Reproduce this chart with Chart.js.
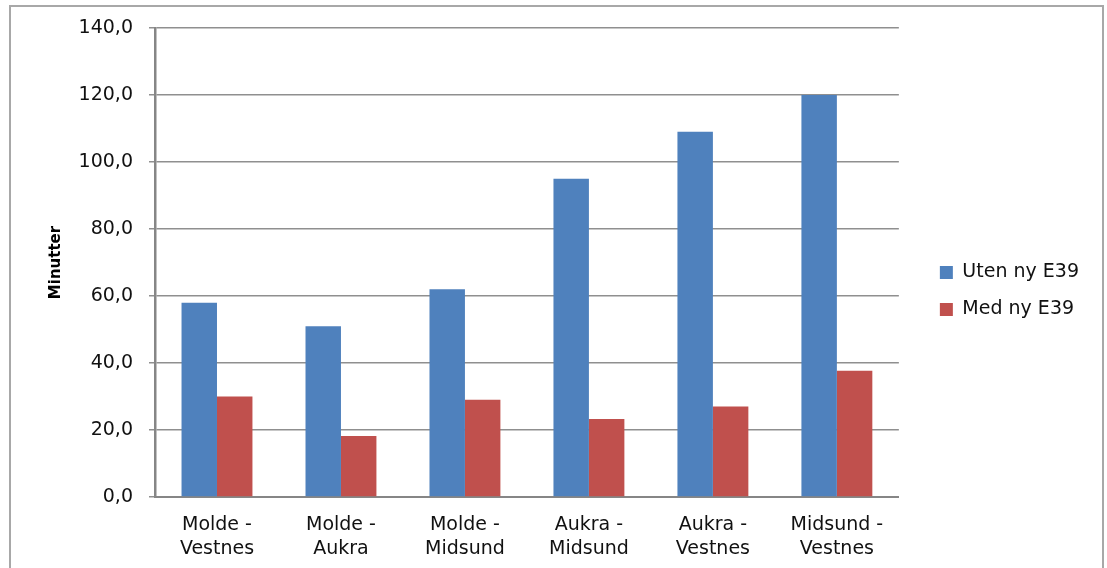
<!DOCTYPE html>
<html>
<head>
<meta charset="utf-8">
<script src="https://cdn.jsdelivr.net/npm/chart.js@4.4.0/dist/chart.umd.min.js"></script>
<style>
  html, body { margin: 0; padding: 0; background: #fff; }
  #wrap { position: relative; width: 1107px; height: 568px; overflow: hidden; }
  #frame { position: absolute; left: 9px; top: 5px; width: 1095px; height: 600px; border: 2px solid #a8a8a8; box-sizing: border-box; }
  #box { position: absolute; left: 0; top: 0; width: 1107px; height: 568px; }
</style>
</head>
<body>
<div id="wrap">
  <div id="frame"></div>
  <div id="box"><canvas id="travelChart"></canvas></div>
</div>
<script>
// Reisetid mellom steder, med og uten ny E39
const routes = [
    ['Molde -', 'Vestnes'],
    ['Molde -', 'Aukra'],
    ['Molde -', 'Midsund'],
    ['Aukra -', 'Midsund'],
    ['Aukra -', 'Vestnes'],
    ['Midsund -', 'Vestnes']
];
const utenE39 = [58, 51, 62, 95, 109, 120];
const medE39 = [30, 18.2, 29, 23.3, 27, 37.7];
const seriesNames = ['Uten ny E39', 'Med ny E39'];
const yMin = 0;
const yMax = 140;
const yStep = 20;

const FONT = 'DejaVu Sans';
const gridColor = '#8f8f8f';
const axisColor = '#868686';

// push the legend a little away from the plot area (and a bit up)
const legendGap = {
    id: 'legendGap',
    afterLayout(chart) {
        const lg = chart.legend;
        if (!lg) return;
        lg.left += 23;
        lg.right += 23;
        lg.top -= 3;
        lg.bottom -= 3;
    }
};

const ctx = document.getElementById('travelChart').getContext('2d');
const travelChart = new Chart(ctx, {
    type: 'bar',
    data: {
        labels: routes,
        datasets: [
            { label: seriesNames[0], data: utenE39, backgroundColor: '#4f81bd', borderWidth: 0 },
            { label: seriesNames[1], data: medE39, backgroundColor: '#c0504d', borderWidth: 0 }
        ]
    },
    options: {
        responsive: true,
        maintainAspectRatio: false,
        animation: false,
        layout: { padding: { left: 47, top: 28, bottom: 8, right: 41 } },
        datasets: { bar: { categoryPercentage: 0.572, barPercentage: 1.0 } },
        plugins: {
            tooltip: { enabled: false },
            legend: {
                position: 'right',
                labels: {
                    boxWidth: 13,
                    boxHeight: 13,
                    padding: 18,
                    color: '#111',
                    font: { family: FONT, size: 19 }
                }
            }
        },
        scales: {
            x: {
                afterFit(scale) { scale.height = 63; },
                grid: { display: false },
                border: { display: true, color: axisColor, width: 2 },
                ticks: {
                    color: '#111',
                    padding: 8,
                    maxRotation: 0,
                    autoSkip: false,
                    font: { family: FONT, size: 19, lineHeight: 1.25 }
                }
            },
            y: {
                min: yMin,
                max: yMax,
                afterFit(scale) { scale.width = 108; },
                grid: { color: gridColor, lineWidth: 1.5, tickLength: 6 },
                border: { display: true, color: axisColor, width: 2.5 },
                ticks: {
                    stepSize: yStep,
                    padding: 16,
                    color: '#111',
                    font: { family: FONT, size: 19 },
                    callback: v => v.toFixed(1).replace('.', ',')
                },
                title: {
                    display: true,
                    text: 'Minutter',
                    color: '#000',
                    padding: { top: 0, bottom: 0 },
                    font: { family: FONT, size: 15, weight: 'bold' }
                }
            }
        }
    },
    plugins: [legendGap]
});
</script>
</body>
</html>
